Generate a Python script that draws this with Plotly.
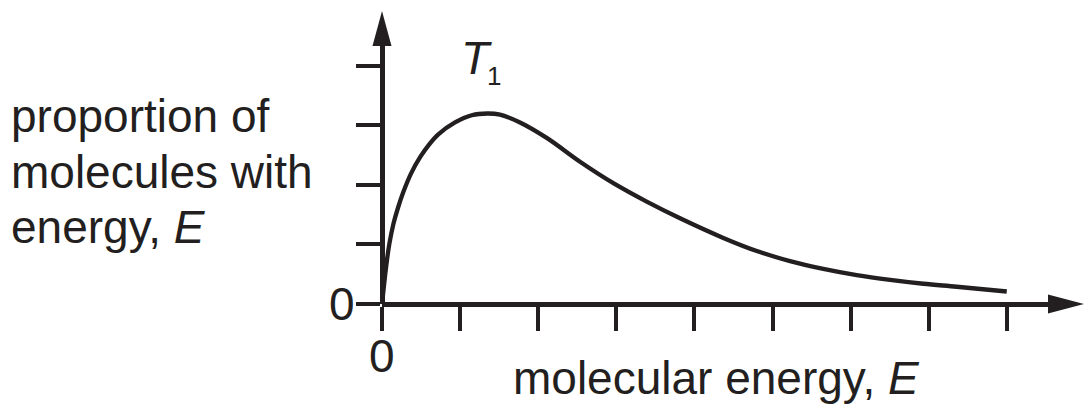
import plotly.graph_objects as go

# ---- data ----
energy = [0, 0.038, 0.064, 0.093, 0.145, 0.201, 0.273, 0.371, 0.49,
          0.61, 0.721, 0.935, 1.149, 1.35, 1.511, 1.767, 2.109, 2.535, 2.962,
          3.389, 3.816, 4.370, 4.798, 5.224, 5.650, 6.078, 6.505, 6.931, 7.358,
          7.999]
proportion = [0, 0.46, 0.74, 1.00, 1.34, 1.60, 1.88, 2.19, 2.47,
              2.69, 2.85, 3.05, 3.17, 3.20, 3.18, 3.05, 2.79, 2.39, 2.03,
              1.72, 1.44, 1.11, 0.89, 0.72, 0.59, 0.485, 0.405, 0.34, 0.29,
              0.21]
x_ticks = [0, 1, 2, 3, 4, 5, 6, 7, 8]
x_ticklabels = ["0", "", "", "", "", "", "", "", ""]
y_ticks = [0, 1, 2, 3, 4]
y_ticklabels = ["0", "", "", "", ""]
x_max = 8.527
y_max = 4.334

INK = "#231f20"
FONT = "Liberation Sans, Arial, sans-serif"
FS = 46

W, H = 1091, 412
ML, MR, MT, MB = 382, 43, 46, 107.7
PW = W - ML - MR
PH = H - MT - MB

def px_x(px):
    return (px - ML) / PW

def px_y(py):
    return (H - MB - py) / PH

fig = go.Figure()
fig.add_trace(go.Scatter(
    x=energy, y=proportion, mode="lines",
    line=dict(color=INK, width=4.3, shape="spline", smoothing=1.0),
    hoverinfo="skip", showlegend=False,
))

axis_common = dict(
    showline=True, linecolor=INK, linewidth=4.5,
    ticks="outside", ticklen=24, tickwidth=4, tickcolor=INK,
    showgrid=False, zeroline=False, anchor="free", position=0,
    showticklabels=False, fixedrange=True,
)
fig.update_xaxes(range=[0, x_max], tickvals=x_ticks, ticktext=x_ticklabels, **axis_common)
fig.update_yaxes(range=[0, y_max], tickvals=y_ticks, ticktext=y_ticklabels, **axis_common)

# arrowheads at the ends of the axes
ah_len, ah_half = 35, 9.5
fig.add_shape(type="path", xref="paper", yref="paper",
              path=f"M {px_x(382 - ah_half)} 1 L {px_x(382 + ah_half)} 1 L 0 {1 + ah_len / PH} Z",
              fillcolor=INK, line=dict(width=0))
fig.add_shape(type="path", xref="paper", yref="paper",
              path=f"M 1 {ah_half / PH} L 1 {-ah_half / PH} L {1 + 36 / PW} 0 Z",
              fillcolor=INK, line=dict(width=0))

def label(text, px, py, size=FS, xanchor="left"):
    fig.add_annotation(text=text, x=px_x(px), y=px_y(py), xref="paper", yref="paper",
                       xanchor=xanchor, yanchor="middle", showarrow=False,
                       font=dict(family=FONT, size=size, color=INK))

# tick labels placed next to their ticks (positions derived from the axis scale)
for v, t in zip(x_ticks, x_ticklabels):
    if t:
        fig.add_annotation(text=t, x=v / x_max, y=px_y(356), xref="paper", yref="paper",
                           xanchor="center", yanchor="middle", showarrow=False,
                           font=dict(family=FONT, size=FS, color=INK))
for v, t in zip(y_ticks, y_ticklabels):
    if t:
        fig.add_annotation(text=t, x=px_x(342), y=v / y_max, xref="paper", yref="paper",
                           xanchor="center", yanchor="middle", showarrow=False,
                           font=dict(family=FONT, size=FS, color=INK))

label("proportion of", 9, 116)
label("molecules with", 9, 172)
label("energy, <i>E</i>", 9, 227)
label("molecular energy, <i>E</i>", 716.7, 378, xanchor="center")
label("<i>T</i>", 476, 58, xanchor="center")
label("1", 493.5, 76, size=26, xanchor="center")

fig.update_layout(
    width=W, height=H,
    margin=dict(l=ML, r=MR, t=MT, b=MB, pad=0),
    paper_bgcolor="white", plot_bgcolor="white",
    showlegend=False,
)

fig.write_html("out.html")
